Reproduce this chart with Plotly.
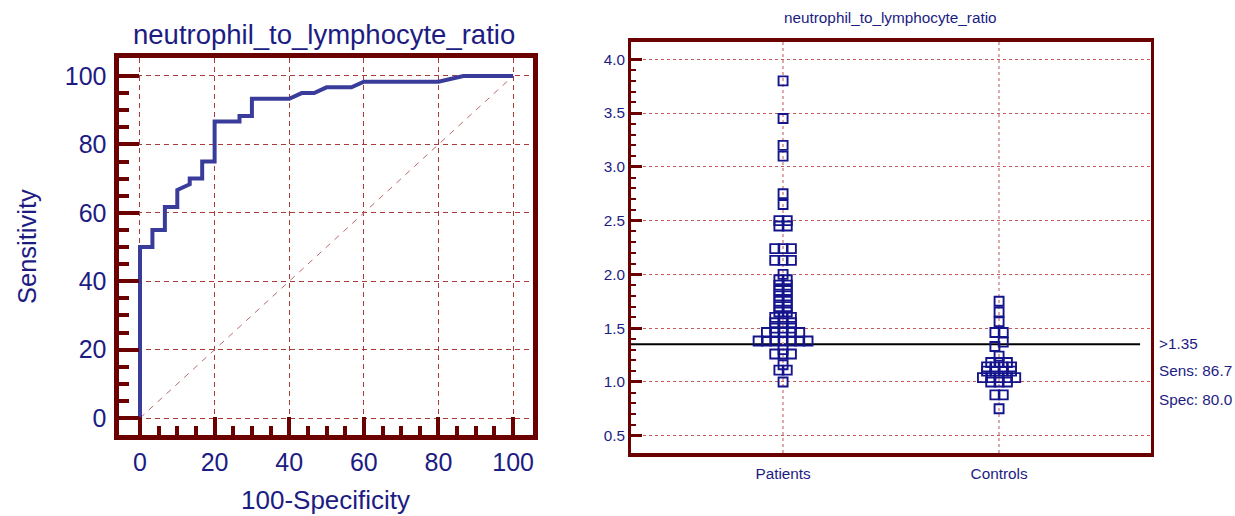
import numpy as np
import plotly.graph_objects as go

# ---------------- data ----------------
title_text = "neutrophil_to_lymphocyte_ratio"

# ROC curve (100-Specificity, Sensitivity)
roc_fpr = [0, 0, 3.33, 3.33, 6.67, 6.67, 10, 10, 13.33, 13.33, 16.67, 16.67, 20, 20,
           26.67, 26.67, 30, 30, 40, 43.33, 46.67, 50, 56.67, 60, 80, 86.67, 100]
roc_tpr = [0, 50, 50, 55, 55, 61.67, 61.67, 66.67, 68.33, 70, 70, 75, 75, 86.67,
           86.67, 88.33, 88.33, 93.33, 93.33, 95, 95, 96.67, 96.67, 98.33, 98.33, 100, 100]
diag = [0, 100]
roc_ticks = [0, 20, 40, 60, 80, 100]

# Dot plot values
patients = ([3.80, 3.45, 3.20, 3.10, 2.75, 2.65] + [2.50] * 2 + [2.45] * 2 +
            [2.24] * 3 + [2.13] * 3 + [2.00] + [1.95] * 2 + [1.90] * 2 + [1.85] * 2 +
            [1.80] * 2 + [1.75] * 2 + [1.70] * 2 + [1.65] * 2 + [1.60] * 3 + [1.55] * 3 +
            [1.50] * 3 + [1.46] * 5 + [1.38] * 7 +
            [1.30] + [1.26] * 3 + [1.16] + [1.11] * 2 + [1.00])
controls = ([1.75, 1.65, 1.56] + [1.46] * 2 + [1.37, 1.33] + [1.24] + [1.18] * 3 +
            [1.14] * 4 + [1.10] * 4 + [1.04] * 5 + [1.00] * 3 + [0.88] * 2 + [0.75])
groups = ["Patients", "Controls"]
cutoff = 1.35
sens = 86.7
spec = 80.0
dot_ticks = [0.5, 1.0, 1.5, 2.0, 2.5, 3.0, 3.5, 4.0]

# ---------------- styles ----------------
FRAME = "#6b0000"
NAVY = "#1c1c82"
CURVE = "#3a3c9c"
MARK = "#14148c"
GRID_L = "#a83a3a"
W, H = 1235, 516
ARIAL = "Liberation Sans, Arial, sans-serif"
SMALL = "Liberation Sans, Arial, sans-serif"
SZ = 15.3


def px_dom(a, b, total):
    return [a / total, b / total]


def py_dom(top, bottom):
    return [1 - bottom / H, 1 - top / H]


fig = go.Figure()

# ROC
fig.add_trace(go.Scatter(x=diag, y=diag, mode="lines", xaxis="x", yaxis="y",
                         line=dict(color="#b86a6a", width=1, dash="6px,6px"),
                         hoverinfo="skip", showlegend=False))
fig.add_trace(go.Scatter(x=roc_fpr, y=roc_tpr, mode="lines", xaxis="x", yaxis="y",
                         line=dict(color=CURVE, width=4), showlegend=False))


# Dot plot positions (rows of points sharing a value bin, spread horizontally)
def swarm(values, center, bw=0.05, step=0.0385):
    vals = sorted(values)
    bins = {}
    for v in vals:
        bins.setdefault(int(round(v / bw)), []).append(v)
    xs, ys = [], []
    for k, vs in bins.items():
        n = len(vs)
        for i, v in enumerate(vs):
            xs.append(center + (i - (n - 1) / 2) * step)
            ys.append(v)
    return xs, ys


for gi, vals in enumerate([patients, controls]):
    xs, ys = swarm(vals, gi)
    fig.add_trace(go.Scatter(x=xs, y=ys, mode="markers", xaxis="x2", yaxis="y2",
                             marker=dict(symbol="square-open", size=9, color=MARK,
                                         line=dict(width=1.9, color=MARK)),
                             showlegend=False))

# layout axes
xminor = [v for v in range(5, 100, 5) if v % 20]
yminor = xminor
dminor = [round(v, 1) for v in np.arange(0.6, 4.0, 0.1) if abs(v * 2 - round(v * 2)) > 1e-6]

fig.update_layout(
    width=W, height=H, margin=dict(l=0, r=0, t=0, b=0),
    paper_bgcolor="white", plot_bgcolor="white",
    xaxis=dict(domain=px_dom(118.5, 532.5, W), range=[-5.76, 105.2], anchor="y",
               tickmode="array", tickvals=roc_ticks,
               showline=True, linecolor=FRAME, linewidth=5, mirror=True,
               ticks="inside", ticklen=18, tickwidth=4, tickcolor=FRAME,
               minor=dict(tickmode="array", tickvals=xminor, ticks="inside",
                          ticklen=9, tickwidth=4, tickcolor=FRAME, showgrid=False),
               showgrid=True, gridcolor=GRID_L, gridwidth=1, griddash="5px,4px",
               zeroline=False, ticklabelstandoff=1,
               tickfont=dict(family=ARIAL, size=25, color=NAVY)),
    yaxis=dict(domain=py_dom(57.5, 434.5), range=[-4.8, 105.4], anchor="x",
               tickmode="array", tickvals=roc_ticks,
               showline=True, linecolor=FRAME, linewidth=5, mirror=True,
               ticks="inside", ticklen=20, tickwidth=4, tickcolor=FRAME,
               minor=dict(tickmode="array", tickvals=yminor, ticks="inside",
                          ticklen=10, tickwidth=4, tickcolor=FRAME, showgrid=False),
               showgrid=True, gridcolor=GRID_L, gridwidth=1, griddash="5px,4px",
               zeroline=False, ticklabelstandoff=2,
               tickfont=dict(family=ARIAL, size=25, color=NAVY)),
    xaxis2=dict(domain=px_dom(631, 1150.5, W), range=[-0.704, 1.701], anchor="y2",
                tickmode="array", tickvals=[0, 1], ticktext=groups,
                showline=True, linecolor=FRAME, linewidth=4, mirror=True,
                ticks="", showgrid=True, gridcolor="#dcaaaa", gridwidth=1.5,
                griddash="dot", zeroline=False, ticklabelstandoff=4,
                tickfont=dict(family=SMALL, size=SZ, color=NAVY)),
    yaxis2=dict(domain=py_dom(41.5, 453), range=[0.339, 4.166], anchor="x2",
                tickmode="array", tickvals=dot_ticks, tickformat=".1f",
                showline=True, linecolor=FRAME, linewidth=3, mirror=True,
                ticks="inside", ticklen=11, tickwidth=3, tickcolor=FRAME,
                minor=dict(tickmode="array", tickvals=dminor, ticks="inside",
                           ticklen=5, tickwidth=2, tickcolor=FRAME, showgrid=False),
                showgrid=True, gridcolor="#c45a5a", gridwidth=1.2, griddash="dot",
                zeroline=False, ticklabelstandoff=0,
                tickfont=dict(family=SMALL, size=SZ, color=NAVY)),
)

# cutoff line
fig.add_shape(type="line", xref="x2 domain", x0=0, x1=0.98, yref="y2", y0=cutoff, y1=cutoff,
              line=dict(color="black", width=2), layer="below")

ann = [
    dict(text=title_text, x=324 / W, y=1 - 34 / H, font=dict(family=ARIAL, size=27.5, color=NAVY)),
    dict(text="100-Specificity", x=325 / W, y=1 - 500 / H, font=dict(family=ARIAL, size=26, color=NAVY)),
    dict(text="Sensitivity", x=27 / W, y=1 - 247 / H, textangle=-90,
         font=dict(family=ARIAL, size=25.5, color=NAVY)),
    dict(text=title_text, x=890 / W, y=1 - 18 / H, font=dict(family=SMALL, size=SZ, color=NAVY)),
    dict(text=f">{cutoff:.2f}", x=1157 / W, y=1 - 343 / H, xanchor="left",
         font=dict(family=SMALL, size=SZ, color=NAVY)),
    dict(text=f"Sens: {sens:.1f}", x=1157 / W, y=1 - 370 / H, xanchor="left",
         font=dict(family=SMALL, size=SZ, color=NAVY)),
    dict(text=f"Spec: {spec:.1f}", x=1157 / W, y=1 - 399 / H, xanchor="left",
         font=dict(family=SMALL, size=SZ, color=NAVY)),
]
for a in ann:
    a.setdefault("xanchor", "center")
    a.update(xref="paper", yref="paper", yanchor="middle", showarrow=False)
    fig.add_annotation(**a)

fig.write_html("out.html")
